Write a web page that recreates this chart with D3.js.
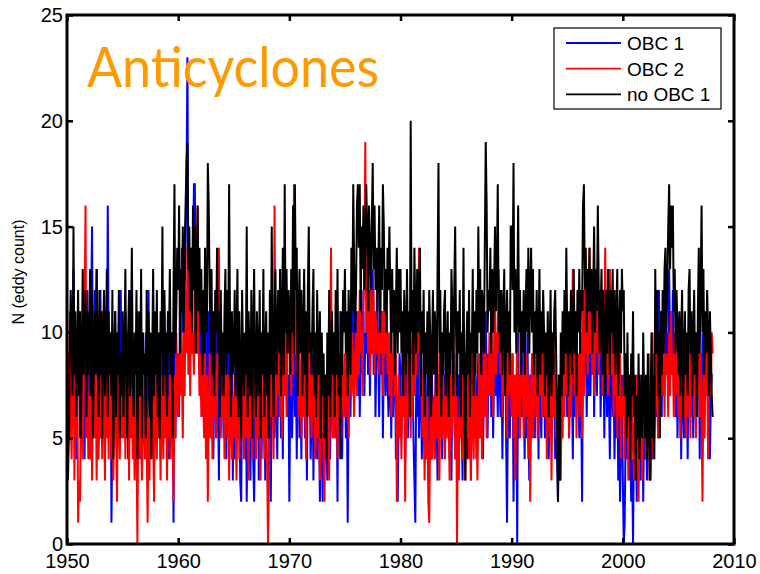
<!DOCTYPE html>
<html>
<head>
<meta charset="utf-8">
<script src="https://cdn.jsdelivr.net/npm/d3@7"></script>
<style>
  body { margin: 0; background: #fff; }
  svg { display: block; }
</style>
</head>
<body>
<svg id="chart" width="760" height="574"></svg>
<script>
// Monthly anticyclonic eddy counts, January 1950 onwards (one value per month)
const startYear = 1950;
const xTicks = [1950, 1960, 1970, 1980, 1990, 2000, 2010];
const yTicks = [0, 5, 10, 15, 20, 25];
const seriesNames = ["OBC 1", "OBC 2", "no OBC 1"];
const seriesColors = ["#0000ff", "#ff0000", "#000000"];

const obc1 = [
  6,9,5,8,11,7,10,13,6,9,4,8,
  7,10,5,9,6,11,8,4,10,7,12,6,
  9,5,11,15,8,6,12,9,13,7,10,5,
  12,8,6,10,5,9,11,7,16,9,6,10,
  1,6,9,5,11,7,4,10,8,6,12,7,
  5,9,7,11,6,8,4,10,7,12,8,6,
  9,5,8,8,11,6,9,4,8,10,5,7,
  6,10,4,8,12,7,5,9,6,8,11,5,
  8,5,9,6,10,4,7,11,5,12,8,6,
  7,11,4,9,6,10,8,1,12,5,9,7,
  9,6,11,8,14,10,13,12,14,17,23,12,
  10,13,9,14,12,17,17,11,14,9,12,8,
  11,7,10,6,12,8,13,5,9,11,7,10,
  6,9,4,8,11,5,10,7,3,9,6,8,
  8,5,10,7,4,9,6,12,8,5,10,3,
  7,4,9,6,10,5,8,3,2,7,5,9,
  4,8,2,6,9,5,3,7,10,4,2,6,
  8,5,9,3,6,10,4,7,5,8,3,6,
  5,9,4,7,2,8,6,10,5,9,7,4,
  9,6,10,5,8,4,11,7,9,12,6,8,
  2,7,10,5,8,12,6,9,4,8,11,5,
  8,4,9,6,10,5,7,3,9,6,8,4,
  6,9,3,7,5,8,4,10,6,2,7,5,
  2,6,4,8,5,3,9,6,4,7,10,5,
  7,10,5,8,2,9,6,11,7,4,8,6,
  9,5,8,1,7,10,6,9,12,8,13,9,
  8,11,7,10,6,9,12,8,11,7,10,9,
  11,8,12,7,10,9,13,8,11,6,9,12,
  9,6,10,8,11,5,9,12,7,10,8,6,
  7,10,5,9,6,8,11,4,7,2,6,9,
  8,5,9,6,10,4,7,9,5,8,6,10,
  7,9,5,3,1,8,6,10,5,7,9,4,
  6,9,4,7,5,8,3,10,6,4,8,5,
  7,4,9,6,3,8,5,10,7,4,9,6,
  8,5,10,6,9,4,7,3,8,6,9,5,
  7,9,4,8,5,10,6,3,8,5,9,7,
  4,8,6,9,3,7,5,10,6,8,4,7,
  9,5,8,6,10,4,7,9,11,8,5,9,
  7,10,6,9,5,8,11,7,9,6,10,8,
  6,9,4,8,7,10,5,1,7,9,5,8,
  7,9,2,6,4,8,0,10,5,8,6,9,
  6,8,4,9,5,10,6,3,8,5,9,7,
  8,5,10,6,9,4,11,7,5,9,6,8,
  5,9,6,8,4,7,10,5,8,6,9,4,
  7,4,2,6,3,8,5,9,6,10,7,8,
  6,9,5,10,7,8,4,9,6,11,7,9,
  8,5,10,7,2,9,12,8,10,6,9,7,
  11,7,10,8,12,6,9,11,7,10,8,12,
  6,9,7,10,5,8,11,6,9,7,4,8,
  10,6,8,4,7,5,9,3,6,2,5,8,
  3,0,1,5,7,4,6,3,5,2,4,0,
  5,3,7,2,6,4,8,3,5,7,2,6,
  4,7,3,6,5,8,3,6,4,9,5,7,
  6,9,5,12,8,10,6,11,7,9,12,8,
  10,7,13,9,11,8,12,7,10,6,9,5,
  8,6,10,4,9,7,5,10,6,8,4,9,
  7,10,6,9,5,8,10,6,9,7,10,4,
  9,6,10,8,5,9,7,10,6,8,4,7,
  8,8
];

const obc2 = [
  9,5,7,11,6,4,8,10,3,7,5,9,
  1,3,2,6,9,4,7,11,16,5,8,4,
  7,4,9,3,6,10,5,8,3,7,4,6,
  5,8,4,11,6,3,9,5,7,4,8,6,
  4,7,3,6,9,5,2,8,6,4,7,5,
  8,5,9,4,7,6,10,3,8,5,7,4,
  6,3,8,5,0,7,4,9,5,3,7,6,
  4,8,5,1,6,3,9,4,7,5,2,8,
  6,4,9,5,7,3,8,6,4,9,5,7,
  3,7,5,8,4,9,6,2,8,5,10,7,
  6,9,7,11,8,5,10,7,12,9,14,8,
  11,7,12,9,10,8,13,11,9,16,10,7,
  9,6,10,7,5,9,4,8,2,6,9,5,
  7,4,8,6,9,5,7,10,14,8,5,7,
  6,8,4,7,9,5,8,3,6,9,4,7,
  5,8,6,3,7,9,4,8,6,5,9,4,
  7,5,9,6,3,8,5,7,4,9,6,8,
  4,7,5,8,6,3,9,5,7,4,8,6,
  4,0,3,8,6,10,7,4,16,9,6,8,
  7,10,6,9,5,8,11,7,10,6,9,12,
  9,11,7,10,8,17,9,12,8,10,6,9,
  8,5,9,6,10,7,4,8,11,6,9,7,
  5,8,6,9,4,7,5,8,6,3,7,9,
  6,4,2,7,5,8,6,3,9,14,7,5,
  8,5,9,7,4,10,6,8,5,9,7,6,
  9,6,10,7,5,8,11,7,10,8,6,9,
  10,7,11,8,12,9,10,7,11,13,19,10,
  12,9,11,8,13,10,9,12,8,11,10,9,
  10,8,12,9,11,7,10,13,9,11,8,10,
  7,10,6,9,8,11,7,9,2,6,8,5,
  7,4,8,6,9,2,7,5,10,6,8,5,
  9,6,11,7,10,8,12,9,14,7,10,6,
  5,8,3,6,4,7,2,1,5,8,4,6,
  7,4,8,5,9,6,3,7,10,5,8,6,
  4,7,5,9,6,3,8,5,7,10,6,4,
  8,0,6,3,7,5,9,4,8,6,3,7,
  5,8,4,7,3,9,6,4,8,5,7,3,
  6,9,5,8,4,7,10,6,9,5,8,7,
  10,7,11,8,6,9,12,8,10,9,13,11,
  8,10,6,9,7,11,8,5,9,7,10,8,
  6,9,5,8,3,7,10,6,8,5,9,7,
  8,5,10,6,9,7,4,8,2,6,9,5,
  7,10,6,9,5,8,11,7,9,6,10,8,
  6,8,4,7,9,5,8,3,7,10,6,8,
  5,7,4,8,6,3,7,5,9,6,10,8,
  7,9,5,10,6,8,13,11,7,9,5,8,
  9,6,10,8,5,11,7,12,9,10,8,11,
  14,9,12,8,11,7,10,13,9,11,8,10,
  9,11,7,12,10,14,8,11,7,10,13,9,
  8,11,6,9,7,10,5,8,6,9,4,7,
  6,8,4,9,5,7,3,6,8,4,7,5,
  3,6,4,8,5,2,7,4,6,3,8,5,
  6,4,8,5,9,3,7,6,10,4,8,6,
  7,10,5,9,6,11,8,7,10,6,9,8,
  9,6,10,7,11,8,9,6,10,8,7,9,
  6,9,5,8,7,10,6,9,5,8,6,10,
  8,5,9,7,10,6,8,5,9,7,10,6,
  9,6,2,8,5,10,7,9,4,8,10,7,
  10,9
];

const noObc1 = [
  4,3,5,9,12,10,7,15,8,11,6,9,
  12,7,11,5,9,13,8,10,12,6,11,8,
  10,13,7,12,5,9,11,8,13,9,6,12,
  8,11,5,10,12,7,9,13,6,11,8,10,
  7,12,4,9,11,6,10,8,12,5,9,7,
  11,6,9,13,8,5,10,12,7,9,14,8,
  6,10,8,12,4,9,11,7,13,5,10,8,
  9,5,12,8,11,6,10,4,9,13,7,11,
  8,12,6,10,5,11,9,15,7,12,8,10,
  6,11,9,13,8,10,5,12,17,9,11,14,
  12,16,9,13,11,15,10,14,16,18,19,13,
  15,11,14,10,16,12,15,9,13,16,11,14,
  10,13,8,12,9,14,11,10,18,16,12,9,
  13,8,11,7,12,10,14,9,11,6,12,8,
  10,7,11,13,8,12,9,17,10,6,11,8,
  9,12,7,10,13,6,11,8,5,12,9,7,
  10,8,15,6,11,9,7,12,5,10,13,8,
  6,11,9,7,12,5,10,8,13,6,9,11,
  7,10,5,12,8,15,9,6,11,13,8,10,
  12,9,13,7,11,14,8,17,10,13,9,12,
  11,8,13,10,16,9,17,12,14,7,11,13,
  9,12,7,10,13,8,11,6,12,15,9,10,
  8,11,13,7,10,6,12,9,8,11,5,10,
  7,9,5,8,4,10,7,12,6,9,11,8,
  10,6,12,8,13,7,9,4,11,8,12,10,
  13,9,11,7,12,10,8,14,11,17,13,10,
  12,16,17,14,17,11,15,13,16,12,14,17,
  15,11,16,14,12,15,18,13,16,12,14,11,
  13,16,10,14,12,17,15,11,13,10,14,12,
  15,12,9,13,10,12,8,11,14,9,13,10,
  13,9,11,7,12,10,8,13,9,11,6,20,
  10,12,8,14,11,9,13,10,12,14,7,11,
  9,12,6,10,8,11,7,12,10,6,9,12,
  8,11,10,7,13,18,9,12,6,10,8,11,
  12,7,9,11,6,10,8,13,11,7,12,15,
  10,7,11,9,12,6,10,8,14,7,3,9,
  11,8,12,6,10,9,13,7,11,8,12,9,
  15,10,13,8,12,11,9,14,19,16,10,12,
  11,14,9,13,10,12,15,11,13,17,10,12,
  9,12,8,11,13,7,10,12,9,11,8,15,
  15,12,18,10,13,9,11,16,10,12,8,11,
  9,12,8,11,13,10,14,9,12,14,10,13,
  8,11,9,12,7,10,13,8,11,9,12,10,
  7,10,8,11,6,9,12,7,10,8,11,12,
  9,6,2,8,3,10,7,11,8,12,9,14,
  10,7,11,9,12,8,10,13,9,11,7,12,
  10,13,9,12,11,16,17,12,14,10,13,11,
  14,11,13,9,12,15,10,13,11,16,12,9,
  11,13,8,12,10,7,12,9,13,11,8,12,
  10,13,9,12,8,11,13,7,10,12,9,13,
  11,12,7,9,5,10,6,8,4,9,7,11,
  6,8,3,7,5,9,4,6,8,5,10,7,
  5,8,4,9,6,3,7,10,5,8,4,13,
  9,12,7,10,5,11,8,12,9,13,14,10,
  12,15,17,13,16,14,16,11,13,9,12,10,
  8,11,7,10,12,6,9,11,8,10,7,12,
  13,9,11,7,10,12,8,10,6,11,14,9,
  12,16,10,13,8,11,9,12,10,7,11,9,
  7,6
];

const seriesValues = [obc1, obc2, noObc1];

const svg = d3.select("#chart");
const plotLeft = 67, plotRight = 734, plotTop = 15, plotBottom = 544;

const x = d3.scaleLinear().domain([1950, 2010]).range([plotLeft, plotRight]);
const y = d3.scaleLinear().domain([0, 25]).range([plotBottom, plotTop]);

const axisFont = "'Liberation Sans', Arial, Helvetica, sans-serif";

// data lines (drawn in legend order, last on top)
const line = d3.line()
  .x((d, i) => x(startYear + i / 12))
  .y(d => y(d));

svg.append("defs").append("clipPath").attr("id", "plotClip")
  .append("rect").attr("x", plotLeft).attr("y", plotTop)
  .attr("width", plotRight - plotLeft).attr("height", plotBottom - plotTop);

const linesG = svg.append("g").attr("clip-path", "url(#plotClip)");
seriesValues.forEach((vals, k) => {
  linesG.append("path")
    .datum(vals)
    .attr("d", line)
    .attr("fill", "none")
    .attr("stroke", seriesColors[k])
    .attr("stroke-width", 2)
    .attr("stroke-linejoin", "miter")
    .attr("stroke-miterlimit", 10);
});

// axes with inward ticks on all four sides
function styleAxis(g) {
  g.select(".domain").remove();
  g.selectAll(".tick line").attr("stroke", "#000").attr("stroke-width", 2.5);
  g.selectAll(".tick text")
    .attr("fill", "#000")
    .style("font-family", axisFont)
    .style("font-size", "20px");
}

svg.append("g")
  .attr("transform", `translate(0,${plotBottom})`)
  .call(d3.axisBottom(x).tickValues(xTicks).tickFormat(d3.format("d"))
    .tickSizeInner(-6).tickSizeOuter(0).tickPadding(10))
  .call(styleAxis);

svg.append("g")
  .attr("transform", `translate(0,${plotTop})`)
  .call(d3.axisTop(x).tickValues(xTicks).tickFormat("")
    .tickSizeInner(-6).tickSizeOuter(0))
  .call(styleAxis);

svg.append("g")
  .attr("transform", `translate(${plotLeft},0)`)
  .call(d3.axisLeft(y).tickValues(yTicks).tickFormat(d3.format("d"))
    .tickSizeInner(-6).tickSizeOuter(0).tickPadding(4))
  .call(styleAxis);

svg.append("g")
  .attr("transform", `translate(${plotRight},0)`)
  .call(d3.axisRight(y).tickValues(yTicks).tickFormat("")
    .tickSizeInner(-6).tickSizeOuter(0))
  .call(styleAxis);

// plot frame
svg.append("rect")
  .attr("x", plotLeft).attr("y", plotTop)
  .attr("width", plotRight - plotLeft).attr("height", plotBottom - plotTop)
  .attr("fill", "none").attr("stroke", "#000").attr("stroke-width", 3);

// y-axis title
svg.append("text")
  .attr("transform", `translate(24,272) rotate(-90)`)
  .attr("text-anchor", "middle")
  .style("font-family", axisFont)
  .style("font-size", "16px")
  .text("N (eddy count)");

// panel title
svg.append("text")
  .attr("x", 87).attr("y", 87)
  .attr("fill", "#ff9900")
  .attr("textLength", 292)
  .attr("lengthAdjust", "spacingAndGlyphs")
  .style("font-family", "Lato, 'Open Sans', sans-serif")
  .style("font-size", "57px")
  .text("Anticyclones");

// legend
const lg = svg.append("g");
lg.append("rect")
  .attr("x", 554).attr("y", 28).attr("width", 167).attr("height", 81)
  .attr("fill", "#fff").attr("stroke", "#000").attr("stroke-width", 1.2);
seriesNames.forEach((name, k) => {
  const yy = 43 + k * 25.7;
  lg.append("line")
    .attr("x1", 566).attr("x2", 621).attr("y1", yy).attr("y2", yy)
    .attr("stroke", seriesColors[k]).attr("stroke-width", 1.8);
  lg.append("text")
    .attr("x", 627).attr("y", yy).attr("dy", "0.36em")
    .style("font-family", axisFont)
    .style("font-size", "19px")
    .text(name);
});
</script>
</body>
</html>
